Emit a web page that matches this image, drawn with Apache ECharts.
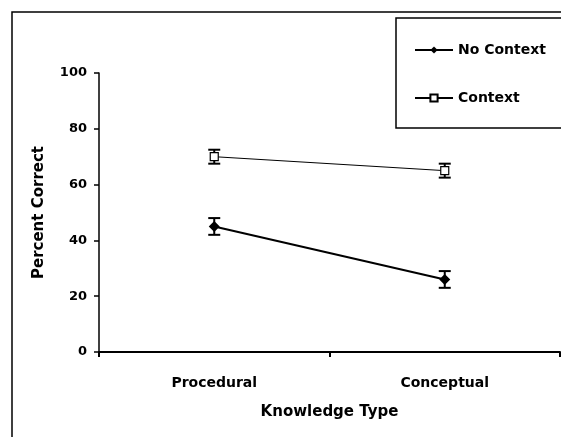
<!DOCTYPE html>
<html>
<head>
<meta charset="utf-8">
<script src="https://cdn.jsdelivr.net/npm/echarts@6/dist/echarts.min.js"></script>
<style>
html, body { margin: 0; padding: 0; background: #fff; }
#chart { width: 561px; height: 437px; }
</style>
</head>
<body>
<div id="chart"></div>
<script>
var categories = ['Procedural', 'Conceptual'];
var noContext = [45, 26];
var noContextErr = [3, 3];
var context = [70, 65];
var contextErr = [2.5, 2.5];
var yTicks = [0, 20, 40, 60, 80, 100];

function errorData(vals, errs) {
    var out = [];
    for (var i = 0; i < vals.length; i++) {
        out.push([i, vals[i] - errs[i], vals[i] + errs[i]]);
    }
    return out;
}

function renderError(params, api) {
    var x = api.value(0);
    var lo = api.coord([x, api.value(1)]);
    var hi = api.coord([x, api.value(2)]);
    var w = 6;
    var st = {stroke: '#000', lineWidth: 2};
    return {
        type: 'group',
        children: [
            {type: 'line', shape: {x1: lo[0], y1: lo[1], x2: hi[0], y2: hi[1]}, style: st},
            {type: 'line', shape: {x1: lo[0] - w, y1: lo[1], x2: lo[0] + w, y2: lo[1]}, style: st},
            {type: 'line', shape: {x1: hi[0] - w, y1: hi[1], x2: hi[0] + w, y2: hi[1]}, style: st}
        ]
    };
}

var font = 'DejaVu Sans';
var myChart = echarts.init(document.getElementById('chart'));
myChart.setOption({
    animation: false,
    grid: {left: 99, right: 1, top: 73, bottom: 85},
    legend: {
        orient: 'vertical',
        left: 409,
        top: 38,
        itemWidth: 38,
        itemHeight: 9,
        itemGap: 34,
        textStyle: {fontFamily: font, fontSize: 14, fontWeight: 'bold', color: '#000'},
        data: ['No Context', 'Context']
    },
    graphic: [
        {type: 'rect', shape: {x: 12, y: 12, width: 700, height: 600},
         style: {fill: 'none', stroke: '#000', lineWidth: 1.5}, z: -10},
        {type: 'rect', shape: {x: 396, y: 18, width: 300, height: 110},
         style: {fill: '#fff', stroke: '#000', lineWidth: 1.5}, z: -5}
    ],
    xAxis: {
        type: 'category',
        data: categories,
        boundaryGap: true,
        name: 'Knowledge Type',
        nameLocation: 'middle',
        nameGap: 53,
        nameTextStyle: {fontFamily: font, fontSize: 15, fontWeight: 'bold', color: '#000'},
        axisLine: {lineStyle: {color: '#000', width: 2}},
        axisTick: {show: true, length: 5, lineStyle: {color: '#000', width: 2}},
        axisLabel: {fontFamily: font, fontSize: 14, fontWeight: 'bold', color: '#000', margin: 24}
    },
    yAxis: {
        type: 'value',
        min: 0,
        max: 100,
        interval: 20,
        name: 'Percent Correct',
        nameLocation: 'middle',
        nameGap: 52,
        nameTextStyle: {fontFamily: font, fontSize: 15, fontWeight: 'bold', color: '#000'},
        axisLine: {show: true, lineStyle: {color: '#000', width: 1.5}},
        axisTick: {show: true, length: 5, lineStyle: {color: '#000', width: 1.5}},
        splitLine: {show: false},
        axisLabel: {fontFamily: font, fontSize: 13, fontWeight: 'bold', color: '#000', margin: 12,
            formatter: function (v) { return yTicks.indexOf(v) >= 0 ? String(v) : ''; }}
    },
    series: [
        {
            name: 'No Context',
            type: 'line',
            data: noContext,
            symbol: 'diamond',
            symbolSize: 11,
            itemStyle: {color: '#000'},
            lineStyle: {color: '#000', width: 2},
            z: 3
        },
        {
            name: 'Context',
            type: 'line',
            data: context,
            symbol: 'rect',
            symbolSize: 8,
            itemStyle: {color: '#fff', borderColor: '#000', borderWidth: 1.2},
            lineStyle: {color: '#000', width: 1},
            z: 3
        },
        {
            type: 'custom',
            renderItem: renderError,
            data: errorData(noContext, noContextErr),
            encode: {x: 0, y: [1, 2]},
            z: 2
        },
        {
            type: 'custom',
            renderItem: renderError,
            data: errorData(context, contextErr),
            encode: {x: 0, y: [1, 2]},
            z: 2
        }
    ]
});
</script>
</body>
</html>
